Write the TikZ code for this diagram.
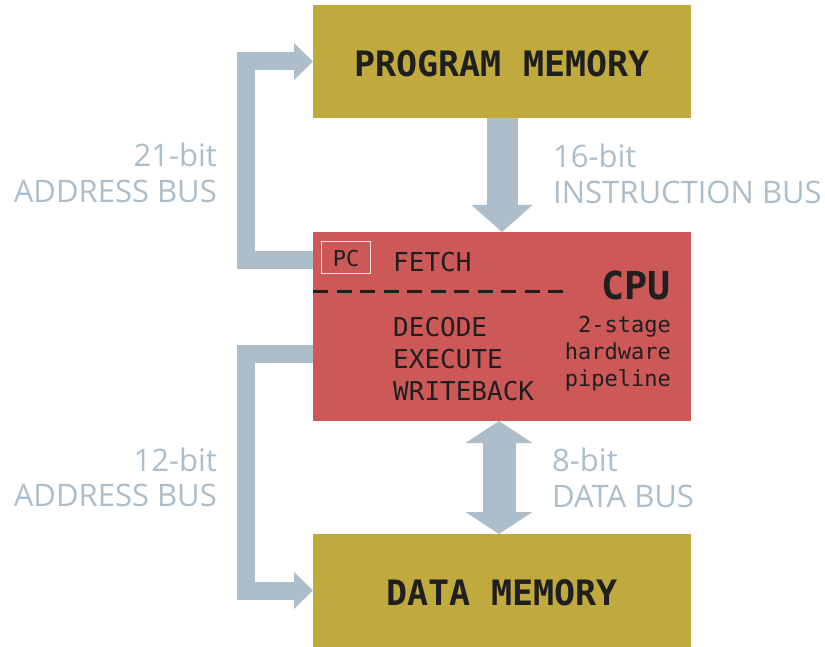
\documentclass[tikz,border=0pt]{standalone}
\usepackage{fontspec}
\setmonofont{DejaVu Sans Mono}
\setsansfont{Open Sans}
\usetikzlibrary{arrows.meta,calc}
\definecolor{gold}{HTML}{C0AA3E}
\definecolor{cpured}{HTML}{CD5858}
\definecolor{bus}{HTML}{ADBECA}
\definecolor{ink}{HTML}{1F1F1F}
\begin{document}
\begin{tikzpicture}[x=1pt,y=-1pt,
  block/.style={minimum width=378pt, inner sep=0pt, outer sep=0pt},
  memtext/.style={text=ink, inner sep=0pt, anchor=base, font=\ttfamily\bfseries\fontsize{35}{40}\selectfont},
  stagetext/.style={text=ink, inner sep=0pt, anchor=base west, font=\ttfamily\fontsize{26}{30}\selectfont},
  pipetext/.style={text=ink, inner sep=0pt, anchor=base east, font=\ttfamily\fontsize{22}{26}\selectfont},
  lbl/.style={text=bus, inner sep=0pt, font=\sffamily\fontsize{31}{36}\selectfont},
  sidebus/.style={draw=bus, line width=18pt, line join=miter,
    -{Triangle[width=37pt,length=19pt,line width=0pt]}},
  insbus/.style={draw=bus, line width=31pt,
    -{Triangle[width=61pt,length=27pt,line width=0pt]}},
  databus/.style={draw=bus, line width=33pt,
    {Triangle[width=67pt,length=22pt,line width=0pt]}-{Triangle[width=67pt,length=22pt,line width=0pt]}}
]
\useasboundingbox (0,0) rectangle (825,647);

% blocks
\node[block, fill=gold, minimum height=113pt] (pm) at (502,61.5) {};
\node[block, fill=cpured, minimum height=189pt] (cpu) at (502,326.5) {};
\node[block, fill=gold, minimum height=113pt] (dm) at (502,590.5) {};

% block texts
\node[memtext] (pmt) at (502,77) {PROGRAM MEMORY};
\node[memtext] (dmt) at (502,605) {DATA MEMORY};

% CPU contents
\node[draw=white!80!cpured, line width=1pt, minimum width=49pt, minimum height=32pt, inner sep=0pt,
      text=ink, font=\ttfamily\fontsize{22}{26}\selectfont] (pc) at (346,258) {PC};
\node[stagetext] (fetch) at (393,272) {FETCH};
\draw[ink, line width=3.5pt, dash pattern=on 15pt off 8.5pt] (cpu.west |- 0,291.5) coordinate (d1) -- (567,291.5) coordinate (d2);
\node[text=ink, inner sep=0pt, anchor=base east, font=\ttfamily\bfseries\fontsize{38.5}{42}\selectfont] (cpul) at (671,300) {CPU};
\node[stagetext] (dec) at (393,336) {DECODE};
\node[stagetext] (exe) at (393,368) {EXECUTE};
\node[stagetext] (wb) at (393,400) {WRITEBACK};
\node[pipetext] (p1) at (671,332) {2-stage};
\node[pipetext] (p2) at (671,359) {hardware};
\node[pipetext] (p3) at (671,386) {pipeline};

% buses
\draw[sidebus] ($(cpu.north west)+(0,28)$) -- ++(-67,0) |- (pm.west);
\draw[sidebus] ($(cpu.north west)+(0,122)$) -- ++(-67,0) |- (dm.west);
\draw[insbus] (pm.south) -- (cpu.north);
\draw[databus] ($(cpu.south)+(-3,0)$) -- ($(dm.north)+(-3,0)$);

% labels
\node[lbl, anchor=base east] (a1) at (217,167) {21-bit};
\node[lbl, anchor=base east] (a2) at (217,203) {ADDRESS BUS};
\node[lbl, anchor=base west] (i1) at (553,168) {16-bit};
\node[lbl, anchor=base west] (i2) at (553,204) {INSTRUCTION BUS};
\node[lbl, anchor=base east] (b1) at (217,471.5) {12-bit};
\node[lbl, anchor=base east] (b2) at (217,506) {ADDRESS BUS};
\node[lbl, anchor=base west] (d1l) at (552,471.5) {8-bit};
\node[lbl, anchor=base west] (d2l) at (552,507.5) {DATA BUS};
\end{tikzpicture}
\end{document}
